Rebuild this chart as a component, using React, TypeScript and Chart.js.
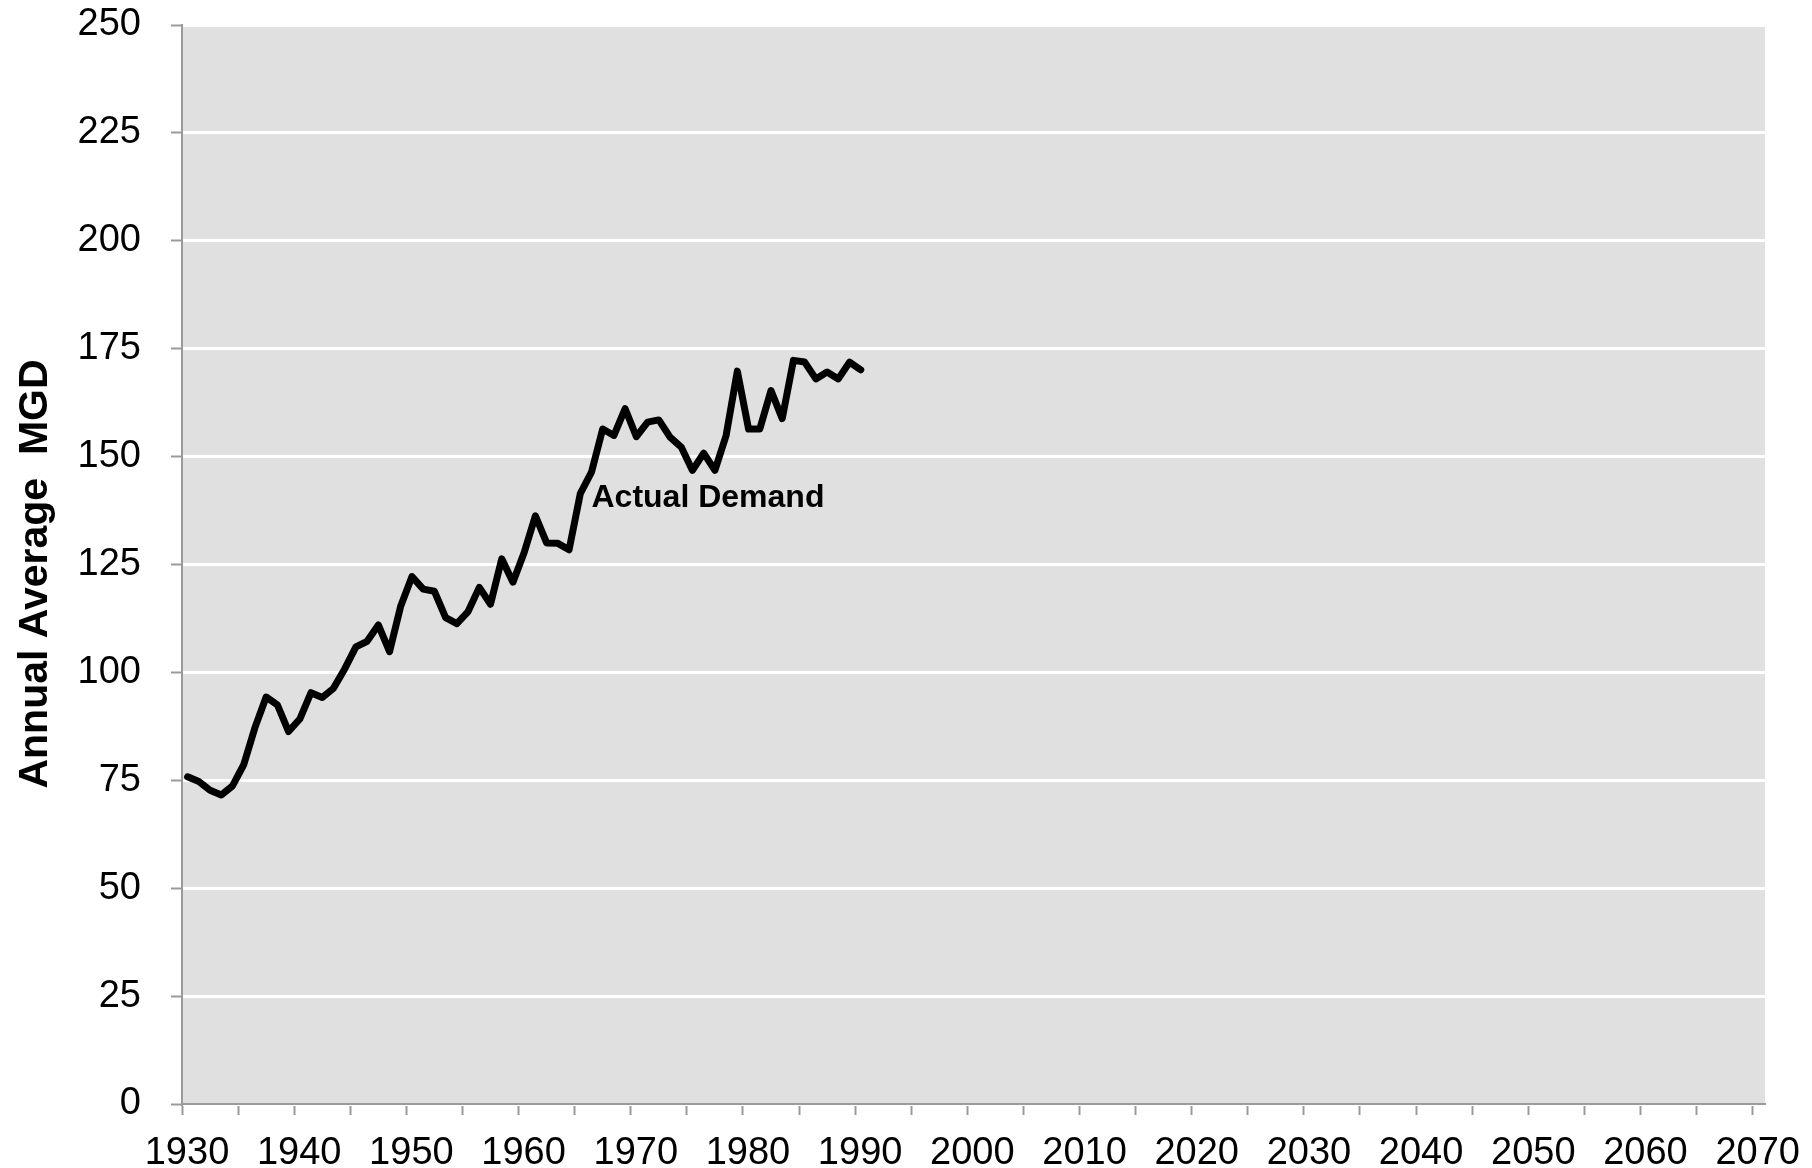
import React, { useEffect, useRef } from 'react';
import { Chart, registerables } from 'chart.js';

Chart.register(...registerables);

// ---- Data ----
const YEARS = [
  1930, 1931, 1932, 1933, 1934, 1935, 1936, 1937, 1938, 1939,
  1940, 1941, 1942, 1943, 1944, 1945, 1946, 1947, 1948, 1949,
  1950, 1951, 1952, 1953, 1954, 1955, 1956, 1957, 1958, 1959,
  1960, 1961, 1962, 1963, 1964, 1965, 1966, 1967, 1968, 1969,
  1970, 1971, 1972, 1973, 1974, 1975, 1976, 1977, 1978, 1979,
  1980, 1981, 1982, 1983, 1984, 1985, 1986, 1987, 1988, 1989,
  1990,
];

const ACTUAL_DEMAND = [
  75.8, 74.7, 72.7, 71.6, 73.7, 78.6, 87.2, 94.3, 92.5, 86.3,
  89.2, 95.3, 94.2, 96.3, 100.8, 105.9, 107.2, 111.0, 104.8, 115.4,
  122.2, 119.3, 118.8, 112.7, 111.3, 114.1, 119.7, 115.8, 126.3, 120.9,
  127.8, 136.3, 130.0, 129.9, 128.4, 141.4, 146.4, 156.4, 154.9, 161.1,
  154.6, 158.0, 158.5, 154.5, 152.2, 146.8, 150.8, 146.8, 154.9, 169.8,
  156.4, 156.4, 165.3, 158.8, 172.3, 171.9, 168.0, 169.6, 168.0, 171.9,
  170.1,
];

const X_MIN = 1930;
const X_MAX = 2071.1;
const X_TICK_STEP = 5;
const X_LABEL_STEP = 10;
const Y_MIN = 0;
const Y_MAX = 250;
const Y_TICK_STEP = 25;
const MID_YEAR = 0.5; // annual values sit in the middle of each year

const Y_TITLE = 'Annual Average  MGD';
const SERIES_LABEL = 'Actual Demand';
const SERIES_LABEL_AT = { year: 1966.5, value: 138.4 };

const FONT = '"Liberation Sans", Arial, sans-serif';
const PLOT_BG = '#e0e0e0';
const AXIS_GRAY = '#9a9a9a';

const plotBackground = {
  id: 'plotBackground',
  beforeDraw(chart: any) {
    const { ctx, chartArea } = chart;
    if (!chartArea) return;
    ctx.save();
    ctx.fillStyle = PLOT_BG;
    ctx.fillRect(chartArea.left, chartArea.top, chartArea.right - chartArea.left, chartArea.bottom - chartArea.top);
    ctx.restore();
  },
};

const seriesLabel = {
  id: 'seriesLabel',
  afterDatasetsDraw(chart: any) {
    const { ctx, scales } = chart;
    const x = scales.x.getPixelForValue(SERIES_LABEL_AT.year);
    const y = scales.y.getPixelForValue(SERIES_LABEL_AT.value);
    ctx.save();
    ctx.font = `bold 32px ${FONT}`;
    ctx.fillStyle = '#000';
    ctx.textAlign = 'left';
    ctx.textBaseline = 'alphabetic';
    ctx.fillText(SERIES_LABEL, x, y);
    ctx.restore();
  },
};

const yTitle = {
  id: 'yTitle',
  afterDraw(chart: any) {
    const { ctx } = chart;
    ctx.save();
    ctx.translate(47, 574);
    ctx.rotate(-Math.PI / 2);
    ctx.font = `bold 41px ${FONT}`;
    ctx.fillStyle = '#000';
    ctx.textAlign = 'center';
    ctx.textBaseline = 'alphabetic';
    ctx.fillText(Y_TITLE, 0, 0);
    ctx.restore();
  },
};

export default function App() {
  const canvasRef = useRef<HTMLCanvasElement | null>(null);

  useEffect(() => {
    const canvas = canvasRef.current;
    if (!canvas) return;
    const points = YEARS.map((yr, i) => ({ x: yr + MID_YEAR, y: ACTUAL_DEMAND[i] }));

    const chart = new Chart(canvas, {
      type: 'line',
      data: {
        datasets: [
          {
            label: SERIES_LABEL,
            data: points,
            borderColor: '#000',
            borderWidth: 7,
            pointRadius: 0,
            pointHoverRadius: 0,
            tension: 0,
            fill: false,
            borderJoinStyle: 'round',
            borderCapStyle: 'round',
          },
        ],
      },
      options: {
        animation: false,
        responsive: false,
        devicePixelRatio: 1,
        events: [],
        layout: { padding: { left: 0, top: 25, right: 47, bottom: 0 } },
        plugins: {
          legend: { display: false },
          tooltip: { enabled: false },
          title: { display: false },
        },
        scales: {
          x: {
            type: 'linear',
            min: X_MIN,
            max: X_MAX,
            border: { display: true, color: AXIS_GRAY, width: 2 },
            grid: {
              drawOnChartArea: false,
              drawTicks: true,
              tickLength: 11,
              tickColor: AXIS_GRAY,
              tickWidth: 2,
            },
            ticks: {
              stepSize: X_TICK_STEP,
              includeBounds: false,
              autoSkip: false,
              maxRotation: 0,
              minRotation: 0,
              padding: 16,
              labelOffset: 5,
              color: '#000',
              font: { family: FONT, size: 38 },
              callback: (v: any) => (Number(v) % X_LABEL_STEP === 0 ? String(v) : ''),
            },
            afterFit: (scale: any) => {
              scale.height = 64;
              scale.paddingLeft = 0;
              scale.paddingRight = 0;
            },
          },
          y: {
            type: 'linear',
            min: Y_MIN,
            max: Y_MAX,
            border: { display: true, color: AXIS_GRAY, width: 2 },
            grid: {
              color: '#ffffff',
              lineWidth: 3,
              drawTicks: true,
              tickLength: 11,
              tickColor: AXIS_GRAY,
              tickWidth: 2,
            },
            ticks: {
              stepSize: Y_TICK_STEP,
              padding: 30,
              color: '#000',
              font: { family: FONT, size: 38 },
            },
            title: { display: false },
            afterFit: (scale: any) => {
              scale.width = 182;
              scale.paddingTop = 0;
              scale.paddingBottom = 0;
            },
          },
        },
      },
      plugins: [plotBackground, seriesLabel, yTitle],
    } as any);

    return () => chart.destroy();
  }, []);

  return (
    <div style={{ position: 'fixed', left: 0, top: 0, width: 1812, height: 1168, background: '#fff' }}>
      <canvas ref={canvasRef} width={1812} height={1168} style={{ display: 'block', width: 1812, height: 1168 }} />
    </div>
  );
}
